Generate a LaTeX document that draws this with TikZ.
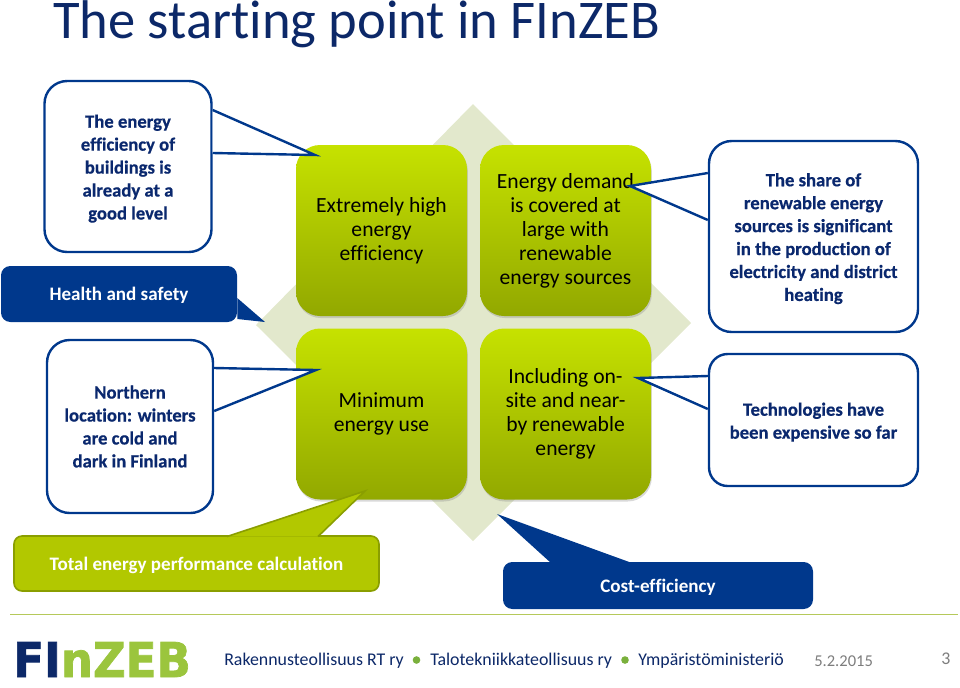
\documentclass[tikz,border=0pt]{standalone}
\usepackage{fontspec}
\setmainfont[Ligatures=NoCommon]{Carlito}
\newfontfamily\calloutfont[Ligatures=NoCommon, BoldFeatures={FakeBold=0.5}]{Carlito}
\newfontfamily\logofont[BoldFeatures={FakeBold=1.5}]{DejaVu Sans}
\usetikzlibrary{shadows}
\newcommand{\calloutstrut}{\rule{0pt}{13pt}}
\definecolor{navycolor}{RGB}{0,56,140}
\definecolor{titlecolor}{RGB}{12,40,104}
\definecolor{boxtextcolor}{RGB}{10,40,110}
\definecolor{limetop}{RGB}{198,226,0}
\definecolor{limebottom}{RGB}{146,168,0}
\definecolor{limefill}{RGB}{178,200,0}
\definecolor{limeedge}{RGB}{138,158,0}
\definecolor{diamondcolor}{RGB}{226,232,204}
\definecolor{rulecolor}{RGB}{181,201,90}
\definecolor{logogreen}{RGB}{155,197,61}
\definecolor{dotcolor}{RGB}{122,176,60}
\definecolor{datecolor}{RGB}{125,125,125}
\tikzset{
  greenbox/.style={rounded corners=18pt, minimum width=128.25pt, minimum height=128.25pt, inner sep=0pt,
    top color=limetop, bottom color=limebottom, align=center, text=black,
    font=\fontsize{16.2}{18}\selectfont,
    drop shadow={shadow xshift=0.6pt, shadow yshift=-1.5pt, opacity=0.3}},
  calloutbox/.style={draw=navycolor, line width=1.8pt, fill=white, rounded corners=17pt, inner sep=0pt,
    align=center, text=boxtextcolor, font=\calloutfont\fontsize{14}{17.2}\bfseries\selectfont},
  calloutwedge/.style={draw=navycolor, line width=1.8pt, fill=white, line join=miter},
  bluebox/.style={fill=navycolor, rounded corners=7pt, inner sep=0pt, text=white,
    text height=10pt, text depth=0pt, font=\fontsize{14.3}{16}\selectfont\bfseries},
  limebox/.style={draw=limeedge, line width=1.2pt, fill=limefill, rounded corners=6pt, inner sep=0pt, text=white,
    text height=10pt, text depth=0pt, font=\fontsize{14.3}{16}\selectfont\bfseries},
  footertext/.style={anchor=base west, inner sep=0pt, text=titlecolor, font=\fontsize{13.4}{16}\selectfont},
}
\begin{document}
\begin{tikzpicture}[x=0.75pt, y=-0.75pt]
\useasboundingbox (0,0) rectangle (960,687);

\node[anchor=base west, inner sep=0pt, text=titlecolor, font=\fontsize{40.9}{44}\selectfont] (title) at (53,38) {The starting point in FInZEB};

\fill[diamondcolor] (473,104) -- (691,323) -- (473,541) -- (256,325) -- cycle;

\node[greenbox] (highefficiency) at (381.5,230.5) {Extremely high\\energy\\efficiency};
\node[greenbox] (demand) at (565.5,230.5) {Energy demand\\is covered at\\large with\\renewable\\energy sources};
\node[greenbox] (minimum) at (381.5,414) {Minimum\\energy use};
\node[greenbox] (onsite) at (565.5,414) {Including on-\\site and near-\\by renewable\\energy};

\node[calloutbox, minimum width=125.25pt, minimum height=128.25pt] (buildings) at (128,166.5) {\calloutstrut The energy\\efficiency of\\buildings is\\already at a\\good level};
\coordinate (buildingstip) at (315,155);
\draw[calloutwedge] (buildings.east |- 0,110) -- (buildingstip) -- (buildings.east |- 0,153);

\node[calloutbox, minimum width=156.75pt, minimum height=143.25pt] (share) at (813.5,236.5) {\calloutstrut The share of\\renewable energy\\sources is significant\\in the production of\\electricity and district\\heating};
\coordinate (sharetip) at (630,186);
\draw[calloutwedge] (share.west |- 0,173) -- (sharetip) -- (share.west |- 0,220);

\node[calloutbox, minimum width=124.5pt, minimum height=129.75pt] (northern) at (130,426.5) {Northern\\location: winters\\are cold and\\dark in Finland};
\coordinate (northerntip) at (316,370);
\draw[calloutwedge] (northern.east |- 0,368) -- (northerntip) -- (northern.east |- 0,411);

\node[calloutbox, rounded corners=14pt, minimum width=156.75pt, minimum height=99pt] (technologies) at (813.5,420) {\calloutstrut Technologies have\\been expensive so far};
\coordinate (technologiestip) at (638,378);
\draw[calloutwedge] (technologies.west |- 0,376) -- (technologiestip) -- (technologies.west |- 0,409);

\node[bluebox, minimum width=177pt, minimum height=42pt] (health) at (119,294) {Health and safety};
\coordinate (healthtip) at (265,322);
\fill[navycolor] (health.east |- 0,298) -- (healthtip) -- (health.east |- 0,319) -- cycle;

\node[bluebox, minimum width=232.5pt, minimum height=35.25pt] (cost) at (658,585.5) {Cost-efficiency};
\coordinate (costtip) at (497,514);
\fill[navycolor] (551,563) -- (costtip) -- (632,563) -- cycle;

\node[limebox, minimum width=273.75pt, minimum height=41.25pt] (total) at (196.5,563.5) {Total energy performance calculation};
\coordinate (totaltip) at (365,491);
\draw[limeedge, line width=1.2pt, fill=limefill] (227,536.5) -- (totaltip) -- (318,536.5);

\draw[rulecolor, line width=0.9pt] (10,614.5) -- (958,614.5);

\node[anchor=base west, inner sep=0pt, xscale=0.94, font=\logofont\fontsize{36}{40}\bfseries\selectfont] (logo) at (13,677) {\textcolor{titlecolor}{FI}\textcolor{logogreen}{nZEB}};

\node[footertext] (rakennus) at (224,665) {Rakennusteollisuus RT ry};
\node[footertext] (teknologia) at (430,665) {Talotekniikkateollisuus ry};
\node[footertext] (ministry) at (638,665) {Ympäristöministeriö};
\fill[dotcolor] (416.5,660) circle (3.8);
\fill[dotcolor] (625,660) circle (3.8);
\node[footertext, text=datecolor, font=\fontsize{12.4}{15}\selectfont] (date) at (814,666) {5.2.2015};
\node[footertext, text=datecolor] (page) at (941,664) {3};
\end{tikzpicture}
\end{document}
